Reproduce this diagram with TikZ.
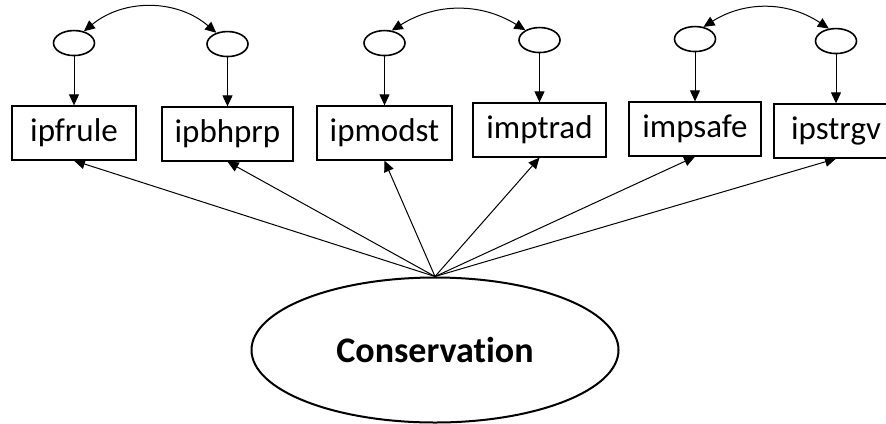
\documentclass[tikz,border=0pt]{standalone}
\usepackage{fontspec}
\setmainfont{Carlito}[Ligatures={NoCommon}]
\usetikzlibrary{positioning,shapes.geometric,arrows.meta}

\begin{document}
\begin{tikzpicture}[x=0.5pt,y=-0.5pt,>={Triangle[length=5.5pt,width=5pt]},auto,
    item node/.style={rectangle,draw,line width=0.65pt,minimum height=27pt,inner sep=0pt,font=\fontsize{16.5}{19}\selectfont},
    error node/.style={ellipse,draw,line width=0.8pt,minimum width=20.5pt,minimum height=12.5pt,inner sep=0pt},
    factor node/.style={ellipse,draw,line width=1pt,minimum width=183.5pt,minimum height=72.5pt,inner sep=0pt,font=\bfseries\fontsize{18}{22}\selectfont}]

            \useasboundingbox (0,0) rectangle (886,423);

            \node[factor node] (c) at (435,350) {Conservation};
            \node[item node, minimum width=62pt] (1) at (74,133) {ipfrule};
            \node[item node, minimum width=65.5pt] (2) at (227.5,134) {ipbhprp};
            \node[item node, minimum width=67.5pt] (3) at (384.5,133) {ipmodst};
            \node[item node, minimum width=66.5pt] (4) at (539.5,130) {imptrad};
            \node[item node, minimum width=66pt] (5) at (695,129) {impsafe};
            \node[item node, minimum width=62pt] (6) at (836,131) {ipstrgv};

            \node[error node] (e1)[above=24.5pt of 1] {};
            \node[error node] (e2)[above=24.5pt of 2] {};
            \node[error node] (e3)[above=24.5pt of 3] {};
            \node[error node] (e4)[above=24.5pt of 4] {};
            \node[error node] (e5)[above=24.5pt of 5] {};
            \node[error node] (e6)[above=24.5pt of 6] {};

            \path[->,line width=0.5pt]
                (c.north) edge (1.south)
                (c.north) edge (2.south)
                (c.north) edge (3.south)
                (c.north) edge (4.south)
                (c.north) edge (5.south)
                (c.north) edge (6.south)
                (e1) edge (1)
                (e2) edge (2)
                (e3) edge (3)
                (e4) edge (4)
                (e5) edge (5)
                (e6) edge (6)
                ;
            \path[<->,line width=0.5pt]
                (e1.50) edge[bend left=40] (e2.135)
                (e3.60) edge[bend left=32] (e4.145)
                (e5.55) edge[bend left=33] (e6.120)
                ;
        \end{tikzpicture}
\end{document}
